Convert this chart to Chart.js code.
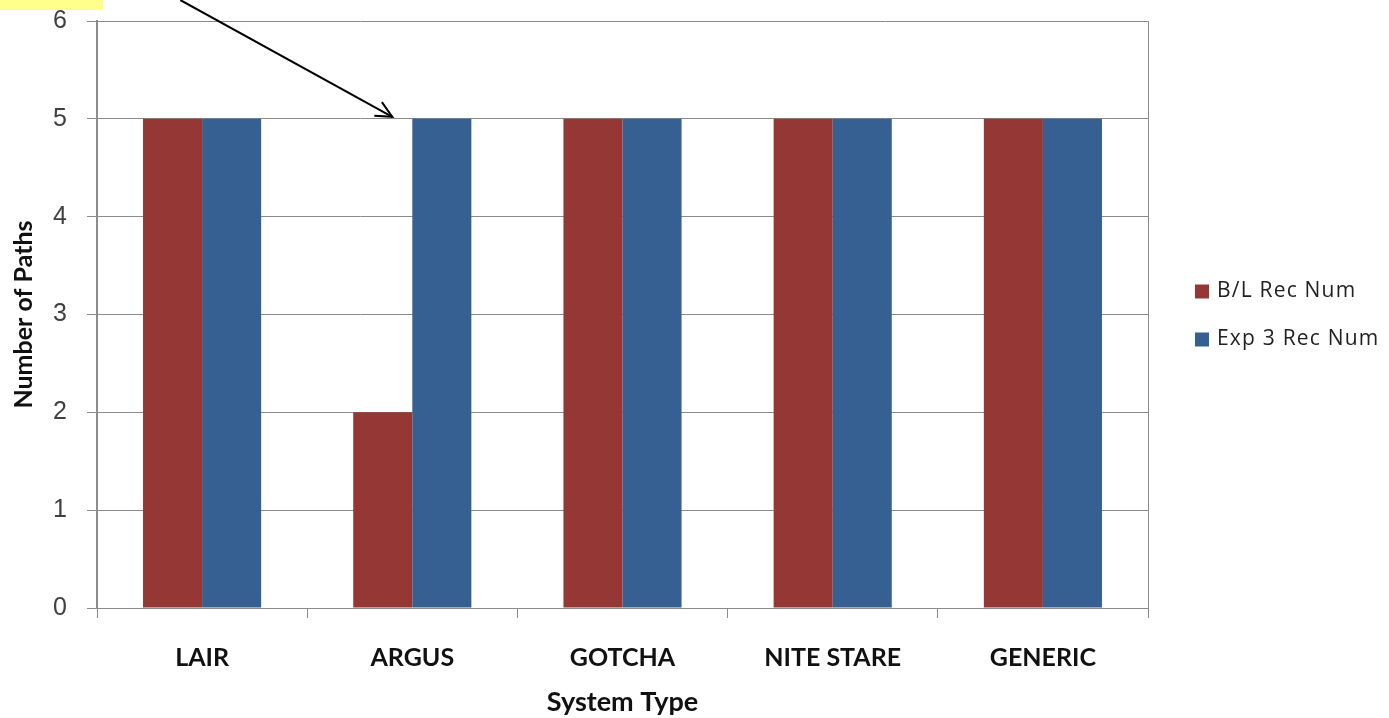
<!DOCTYPE html>
<html>
<head>
<meta charset="utf-8">
<title>Number of Paths by System Type</title>
<script src="https://cdn.jsdelivr.net/npm/chart.js@4.4.1/dist/chart.umd.min.js"></script>
<style>
  html, body { margin: 0; padding: 0; background: #ffffff; }
  #wrap { width: 1389px; height: 718px; position: relative; }
</style>
</head>
<body>
<div id="wrap"><canvas id="chart" width="1389" height="718"></canvas></div>
<script>
// System types on the category axis
const categories = ['LAIR', 'ARGUS', 'GOTCHA', 'NITE STARE', 'GENERIC'];
// Recommended path counts per system
const blRecNum = [5, 2, 5, 5, 5];
const exp3RecNum = [5, 5, 5, 5, 5];
const seriesNames = ['B/L Rec Num', 'Exp 3 Rec Num'];
// Value axis range
const yMin = 0, yMax = 6, yStep = 1;

const RED = '#953735';
const BLUE = '#376092';
const GRID = '#8c8c8c';

// Legend drawn to the right of the plot, vertically centred on it
const sideLegend = {
  id: 'sideLegend',
  afterDraw(chart) {
    const { ctx, chartArea } = chart;
    const sets = chart.data.datasets;
    const rowGap = 48;
    const midY = (chartArea.top + chartArea.bottom) / 2 + 1;
    const x0 = chartArea.right + 47;
    ctx.save();
    ctx.font = '21px "Open Sans", sans-serif';
    if ('letterSpacing' in ctx) ctx.letterSpacing = '1.2px';
    ctx.textBaseline = 'middle';
    sets.forEach((ds, i) => {
      const y = midY + (i - (sets.length - 1) / 2) * rowGap;
      ctx.fillStyle = ds.backgroundColor;
      ctx.fillRect(x0, y - 7, 14, 14);
      ctx.fillStyle = '#222222';
      ctx.fillText(ds.label, x0 + 22, y);
    });
    ctx.restore();
  }
};

// Highlight tag and pointer arrow toward the ARGUS baseline entry
const callout = {
  id: 'callout',
  afterDraw(chart) {
    const { ctx, scales } = chart;
    ctx.save();
    ctx.fillStyle = '#ffff8c';
    ctx.fillRect(0, 0, 103, 10);

    const tipX = scales.x.getPixelForValue(1) - 20;
    const tipY = scales.y.getPixelForValue(5) - 2;
    const startX = tipX - 212;
    const startY = 0;
    ctx.strokeStyle = '#000000';
    ctx.lineWidth = 2;
    ctx.beginPath();
    ctx.moveTo(startX, startY);
    ctx.lineTo(tipX, tipY);
    ctx.stroke();
    const ang = Math.atan2(tipY - startY, tipX - startX);
    const len = 18;
    ctx.beginPath();
    ctx.moveTo(tipX + len * Math.cos(ang + Math.PI - 0.45), tipY + len * Math.sin(ang + Math.PI - 0.45));
    ctx.lineTo(tipX, tipY);
    ctx.lineTo(tipX + len * Math.cos(ang + Math.PI + 0.45), tipY + len * Math.sin(ang + Math.PI + 0.45));
    ctx.stroke();
    ctx.restore();
  }
};

// Value axes keep no extra room for half-height end labels
function noEndPadding(scale) {
  scale.paddingTop = 0;
  scale.paddingBottom = 0;
}

new Chart(document.getElementById('chart'), {
  type: 'bar',
  data: {
    labels: categories,
    datasets: [
      { label: seriesNames[0], data: blRecNum, backgroundColor: RED, borderWidth: 0 },
      { label: seriesNames[1], data: exp3RecNum, backgroundColor: BLUE, borderWidth: 0 }
    ]
  },
  options: {
    responsive: false,
    animation: false,
    events: [],
    layout: { padding: { left: 0, right: 241, top: 21, bottom: 0 } },
    datasets: { bar: { categoryPercentage: 0.562, barPercentage: 1.0 } },
    plugins: {
      legend: { display: false },
      tooltip: { enabled: false }
    },
    scales: {
      x: {
        offset: true,
        grid: {
          offset: true,
          drawOnChartArea: false,
          drawTicks: true,
          tickLength: 10,
          color: GRID,
          lineWidth: 1
        },
        border: { display: true, color: GRID, width: 1 },
        ticks: {
          color: '#111111',
          padding: 25,
          font: { family: 'Lato, sans-serif', size: 25, weight: 'bold' }
        },
        title: {
          display: true,
          text: 'System Type',
          color: '#111111',
          padding: { top: 0, bottom: 0 },
          font: { family: 'Lato, sans-serif', size: 27, weight: 'bold' }
        },
        afterFit(scale) { scale.height = 110; scale.paddingLeft = 0; scale.paddingRight = 0; }
      },
      y: {
        min: yMin,
        max: yMax,
        ticks: {
          stepSize: yStep,
          color: '#404040',
          padding: 20,
          font: { family: '"Liberation Sans", Arial, sans-serif', size: 25 }
        },
        grid: {
          color: GRID,
          lineWidth: 1,
          tickLength: 10
        },
        border: { display: true, color: GRID, width: 2 },
        title: {
          display: true,
          text: 'Number of Paths',
          color: '#111111',
          padding: { top: 9, bottom: 0 },
          font: { family: 'Lato, sans-serif', size: 25, weight: 'bold' }
        },
        afterFit(scale) { scale.width = 97; noEndPadding(scale); }
      },
      yRight: {
        position: 'right',
        min: yMin,
        max: yMax,
        ticks: { display: false },
        grid: { display: false },
        border: { display: true, color: GRID, width: 1 },
        afterFit(scale) { scale.width = 0; noEndPadding(scale); }
      }
    }
  },
  plugins: [sideLegend, callout]
});
</script>
</body>
</html>
